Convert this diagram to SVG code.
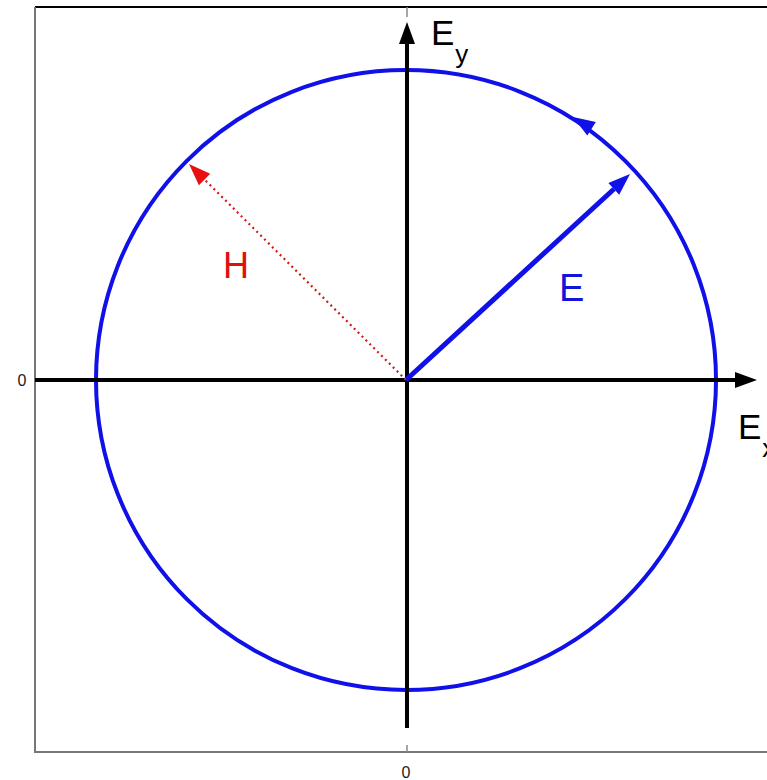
<svg xmlns="http://www.w3.org/2000/svg" width="767" height="780" viewBox="0 0 767 780">
<style>
.frame{stroke:#777;stroke-width:2;fill:none}
.axis{stroke:#000;stroke-width:4;fill:none}
.tick{stroke:#888;stroke-width:1.5}
.lbl{font-family:"Liberation Sans",Arial,sans-serif}
.num{font-family:"Liberation Sans",Arial,sans-serif;font-size:16px;fill:#222}
</style>
<defs>
<polygon id="ah" points="0,0 -22,-8 -22,8"/>
</defs>
<rect width="767" height="780" fill="#fff"/>
<g id="frame">
<line x1="35" y1="7" x2="767" y2="7" stroke="#000" stroke-width="2"/>
<polyline class="frame" points="35,7 35,752 767,752"/>
<line class="tick" x1="407" y1="7" x2="407" y2="17"/>
<line class="tick" x1="407" y1="745" x2="407" y2="752"/>
<text class="num" x="22" y="386" text-anchor="middle">0</text>
<text class="num" x="406" y="778" text-anchor="middle">0</text>
</g>
<g id="circle">
<circle cx="406" cy="380" r="310" fill="none" stroke="#1010e8" stroke-width="4"/>
<use href="#ah" transform="translate(573,117) rotate(212.4)" fill="#1010e8"/>
</g>
<g id="axes">
<line class="axis" x1="35" y1="380" x2="740" y2="380"/>
<use href="#ah" transform="translate(757,380)" fill="#000"/>
<line class="axis" x1="407" y1="728" x2="407" y2="40"/>
<use href="#ah" transform="translate(407,22) rotate(-90)" fill="#000"/>
<text class="lbl" x="431" y="45" font-size="35" fill="#000">E<tspan font-size="26" dx="1" dy="18">y</tspan></text>
<text class="lbl" x="738" y="439" font-size="35" fill="#000">E<tspan font-size="26" dx="1" dy="18">x</tspan></text>
</g>
<g id="connectors">
<g id="E-vector">
<line x1="406" y1="380" x2="614" y2="189" stroke="#1010e8" stroke-width="5"/>
<use href="#ah" transform="translate(630,174) rotate(-42.6)" fill="#1010e8"/>
</g>
<g id="H-vector">
<line x1="406" y1="380" x2="205" y2="180" stroke="#d01818" stroke-width="2.2" stroke-dasharray="2,3.5"/>
<use href="#ah" transform="translate(189,164) rotate(-135.1)" fill="#e81010"/>
</g>
</g>
<g id="labels">
<text class="lbl" x="559" y="301" font-size="38" fill="#1414d8">E</text>
<text class="lbl" x="223" y="278" font-size="36" fill="#e01010">H</text>
</g>
</svg>
